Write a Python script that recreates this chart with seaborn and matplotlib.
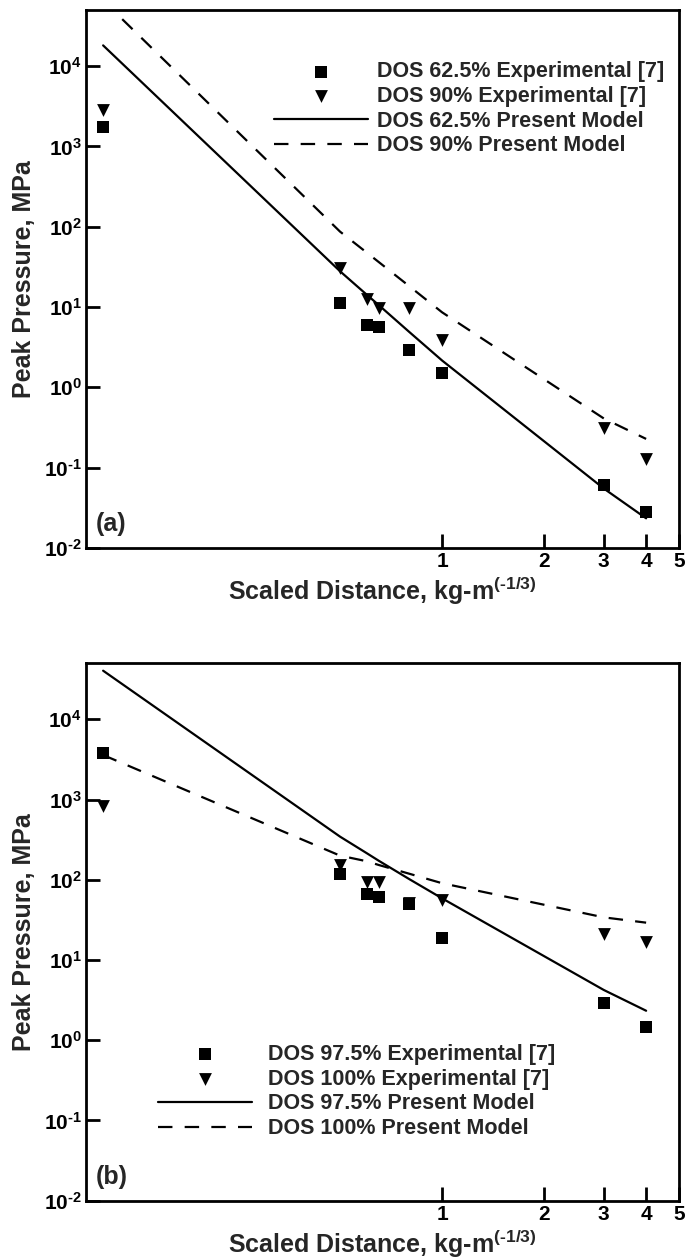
import pandas as pd
import matplotlib
matplotlib.use('Agg')
import matplotlib.pyplot as plt
import seaborn as sns
from matplotlib.ticker import NullLocator

sns.set_style('ticks')
plt.rcParams['font.family'] = ['Liberation Sans', 'DejaVu Sans']
plt.rcParams['font.weight'] = 'bold'
plt.rcParams['axes.labelweight'] = 'bold'
plt.rcParams['mathtext.fontset'] = 'custom'
plt.rcParams['mathtext.rm'] = 'Liberation Sans:bold'
plt.rcParams['mathtext.it'] = 'Liberation Sans:bold'
plt.rcParams['mathtext.bf'] = 'Liberation Sans:bold'
plt.rcParams['axes.edgecolor'] = 'black'
plt.rcParams['xtick.color'] = 'black'
plt.rcParams['ytick.color'] = 'black'

# scaled distance (kg-m^(-1/3))
dist = [0.1, 0.5, 0.6, 0.65, 0.8, 1.0, 3.0, 4.0]

# panel (a) - peak pressure, MPa
a_exp_625 = [1730, 11.2, 6.0, 5.6, 2.9, 1.5, 0.061, 0.028]
a_exp_90 = [2800, 30.6, 12.6, 9.7, 9.7, 3.9, 0.31, 0.128]
a_mod_625 = [18100, 27.9, 14.2, 10.6, 4.9, 2.16, 0.055, 0.0234]
a_mod_90 = [65500, 86.9, 47.5, 36.4, 18.2, 8.6, 0.41, 0.228]
a_labels = ['DOS 62.5% Experimental [7]', 'DOS 90% Experimental [7]',
            'DOS 62.5% Present Model', 'DOS 90% Present Model']

# panel (b)
b_exp_975 = [3770, 118, 66.4, 61.5, 49.9, 18.6, 2.88, 1.45]
b_exp_100 = [835, 153, 94.6, 94.6, 51, 56, 21, 16.9]
b_mod_975 = [40400, 345, 214, 173, 102, 58.7, 4.23, 2.33]
b_mod_100 = [3590, 200, 170, 153, 119, 90.6, 34, 29.2]
b_labels = ['DOS 97.5% Experimental [7]', 'DOS 100% Experimental [7]',
            'DOS 97.5% Present Model', 'DOS 100% Present Model']

y_ticks = [1e-2, 1e-1, 1e0, 1e1, 1e2, 1e3, 1e4]
y_ticklabels = ['$10^{\u20102}$', '$10^{\u20101}$', r'$10^{0}$', r'$10^{1}$',
                r'$10^{2}$', r'$10^{3}$', r'$10^{4}$']
x_ticks = [1, 2, 3, 4, 5]
x_ticklabels = ['1', '2', '3', '4', '5']


def draw_panel(ax, exp1, exp2, mod1, mod2, labels, tag, leg_anchor, text_pad):
    df = pd.DataFrame({'dist': dist, 'exp1': exp1, 'exp2': exp2,
                       'mod1': mod1, 'mod2': mod2})
    sns.scatterplot(data=df, x='dist', y='exp1', marker='s', s=72, color='black',
                    linewidth=0, ax=ax, label=labels[0], zorder=3)
    sns.scatterplot(data=df, x='dist', y='exp2', marker='v', s=85, color='black',
                    linewidth=0, ax=ax, label=labels[1], zorder=3)
    sns.lineplot(data=df, x='dist', y='mod1', color='black', linewidth=1.6,
                 ax=ax, label=labels[2], sort=False)
    sns.lineplot(data=df, x='dist', y='mod2', color='black', linewidth=1.6,
                 linestyle=(0, (6.5, 5.5)), ax=ax, label=labels[3], sort=False)

    ax.set_xscale('log')
    ax.set_yscale('log')
    ax.set_xlim(0.089, 5)
    ax.set_ylim(1e-2, 5e4)
    ax.set_xticks(x_ticks, labels=x_ticklabels)
    ax.set_yticks(y_ticks, labels=y_ticklabels)
    ax.xaxis.set_minor_locator(NullLocator())
    ax.yaxis.set_minor_locator(NullLocator())
    ax.tick_params(which='major', direction='in', length=10, width=2,
                   labelsize=15, pad=3, top=False, right=False)
    for sp in ax.spines.values():
        sp.set_linewidth(2)
        sp.set_color('black')

    ax.set_xlabel('Scaled Distance, kg-m$^{(\u20101/3)}$', fontsize=18, labelpad=3)
    ax.set_ylabel('Peak Pressure, MPa', fontsize=18, labelpad=6)
    ax.text(0.016, 0.022, tag, transform=ax.transAxes, fontsize=18,
            fontweight='bold', ha='left', va='bottom')

    handles, labs = ax.get_legend_handles_labels()
    order = [labs.index(l) for l in labels]
    ax.legend([handles[i] for i in order], [labs[i] for i in order],
              loc='center left', bbox_to_anchor=leg_anchor, frameon=False,
              fontsize=15.5, handlelength=4.4, handletextpad=text_pad,
              labelspacing=0.17, borderpad=0.4, scatterpoints=1)


fig = plt.figure(figsize=(6.85, 12.6), dpi=100)
ax1 = fig.add_axes([0.1255, 0.5651, 0.8657, 0.4270])
ax2 = fig.add_axes([0.1255, 0.0471, 0.8657, 0.4265])

draw_panel(ax1, a_exp_625, a_exp_90, a_mod_625, a_mod_90, a_labels, '(a)',
           (0.284, 0.816), 0.4)
draw_panel(ax2, b_exp_975, b_exp_100, b_mod_975, b_mod_100, b_labels, '(b)',
           (0.088, 0.203), 0.74)

plt.savefig('out.png', dpi=100)
plt.close()
